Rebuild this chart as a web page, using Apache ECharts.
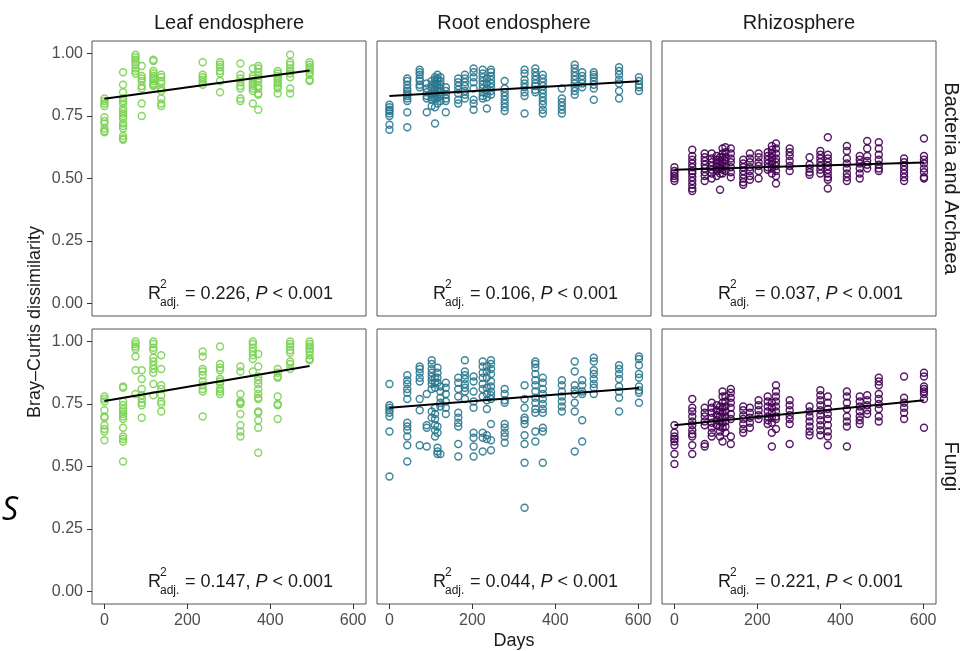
<!DOCTYPE html>
<html>
<head>
<meta charset="utf-8">
<script src="https://cdn.jsdelivr.net/npm/echarts@6/dist/echarts.min.js"></script>
<style>
html,body{margin:0;padding:0;background:#fff;}
#chart{width:963px;height:651px;}
</style>
</head>
<body>
<div id="chart"></div>
<script>
// ---------- data ----------
const columnTitles = ['Leaf endosphere', 'Root endosphere', 'Rhizosphere'];
const rowTitles = ['Bacteria and Archaea', 'Fungi'];
const xTicks = [0, 200, 400, 600];
const yTicks = [0, 0.25, 0.5, 0.75, 1];

const leafDays = [0, 45, 75, 90, 118, 137, 237, 279, 328, 358, 371, 418, 448, 495];
const soilDays = [0, 43, 73, 90, 102, 110, 116, 123, 136, 166, 182, 203, 225, 235, 245, 278, 326, 352, 370, 416, 447, 465, 493, 554, 602];

const leafBacteria = [
  [0.82, 0.81, 0.80, 0.79, 0.745, 0.73, 0.72, 0.70, 0.685, 0.69],
  [0.925, 0.875, 0.845, 0.82, 0.81, 0.80, 0.78, 0.77, 0.76, 0.75, 0.74, 0.72, 0.71, 0.70, 0.67, 0.66, 0.655],
  [0.995, 0.985, 0.975, 0.965, 0.955, 0.94, 0.93, 0.92],
  [0.95, 0.91, 0.90, 0.89, 0.87, 0.86, 0.80, 0.75],
  [0.97, 0.975, 0.93, 0.92, 0.91, 0.90, 0.89, 0.88, 0.875, 0.87],
  [0.915, 0.905, 0.89, 0.88, 0.86, 0.85, 0.82, 0.80, 0.79],
  [0.965, 0.915, 0.905, 0.895, 0.885, 0.875],
  [0.965, 0.955, 0.945, 0.93, 0.92, 0.89, 0.845],
  [0.96, 0.915, 0.90, 0.885, 0.87, 0.86, 0.82, 0.81],
  [0.94, 0.91, 0.90, 0.89, 0.88, 0.87, 0.86, 0.85, 0.80],
  [0.95, 0.94, 0.925, 0.91, 0.90, 0.89, 0.87, 0.86, 0.84, 0.835, 0.775],
  [0.93, 0.92, 0.91, 0.90, 0.89, 0.88, 0.87, 0.86, 0.84],
  [0.995, 0.965, 0.955, 0.94, 0.93, 0.92, 0.905, 0.86, 0.84],
  [0.965, 0.955, 0.945, 0.935, 0.925, 0.915, 0.895, 0.89]
];

const rootBacteria = [
  [0.795, 0.785, 0.775, 0.77, 0.76, 0.75, 0.715, 0.695],
  [0.90, 0.89, 0.875, 0.86, 0.85, 0.84, 0.83, 0.82, 0.81, 0.765, 0.705],
  [0.935, 0.925, 0.915, 0.90, 0.89, 0.875, 0.865],
  [0.88, 0.86, 0.845, 0.83, 0.82, 0.765],
  [0.89, 0.875, 0.86, 0.84, 0.825, 0.815, 0.79],
  [0.905, 0.895, 0.88, 0.87, 0.855, 0.84, 0.83, 0.82, 0.785, 0.72],
  [0.915, 0.90, 0.89, 0.875, 0.86, 0.85, 0.835, 0.82, 0.80],
  [0.905, 0.89, 0.875, 0.86, 0.845, 0.83, 0.81],
  [0.865, 0.85, 0.835, 0.82, 0.81, 0.765],
  [0.90, 0.885, 0.87, 0.855, 0.84, 0.815, 0.80],
  [0.915, 0.90, 0.885, 0.87, 0.85, 0.835, 0.82],
  [0.94, 0.925, 0.905, 0.885, 0.86, 0.815, 0.80, 0.775],
  [0.935, 0.92, 0.905, 0.89, 0.875, 0.86, 0.845, 0.83, 0.82],
  [0.90, 0.88, 0.86, 0.84, 0.825, 0.78],
  [0.935, 0.925, 0.91, 0.895, 0.88, 0.865, 0.85, 0.835],
  [0.89, 0.86, 0.845, 0.83, 0.815, 0.80, 0.785, 0.77],
  [0.935, 0.92, 0.895, 0.88, 0.865, 0.845, 0.83, 0.76],
  [0.94, 0.925, 0.91, 0.895, 0.88, 0.87, 0.855, 0.845],
  [0.915, 0.90, 0.885, 0.87, 0.855, 0.84, 0.825, 0.81, 0.795, 0.775, 0.76],
  [0.86, 0.82, 0.805, 0.79, 0.775, 0.76],
  [0.955, 0.94, 0.925, 0.91, 0.895, 0.88, 0.865, 0.85, 0.835],
  [0.925, 0.91, 0.895, 0.88, 0.865],
  [0.925, 0.915, 0.905, 0.89, 0.875, 0.86, 0.815],
  [0.945, 0.93, 0.915, 0.895, 0.88, 0.85, 0.82],
  [0.905, 0.89, 0.875, 0.865, 0.85]
];

const rhizoBacteria = [
  [0.545, 0.53, 0.52, 0.51, 0.50, 0.49],
  [0.615, 0.59, 0.575, 0.56, 0.545, 0.53, 0.52, 0.505, 0.49, 0.475, 0.46, 0.45],
  [0.60, 0.585, 0.57, 0.555, 0.54, 0.525, 0.51, 0.49],
  [0.60, 0.58, 0.565, 0.55, 0.535, 0.52, 0.50],
  [0.59, 0.575, 0.56, 0.545, 0.53, 0.51],
  [0.585, 0.57, 0.555, 0.54, 0.52, 0.455],
  [0.62, 0.60, 0.585, 0.565, 0.55, 0.535, 0.52],
  [0.625, 0.605, 0.585, 0.57, 0.55, 0.53],
  [0.62, 0.60, 0.58, 0.565, 0.545, 0.525, 0.505],
  [0.575, 0.56, 0.545, 0.53, 0.515, 0.50, 0.485, 0.475],
  [0.60, 0.58, 0.565, 0.545, 0.53, 0.51, 0.495],
  [0.60, 0.585, 0.565, 0.55, 0.53, 0.50],
  [0.605, 0.59, 0.575, 0.56, 0.545, 0.535],
  [0.63, 0.615, 0.60, 0.585, 0.57, 0.555, 0.54, 0.52],
  [0.64, 0.62, 0.60, 0.58, 0.565, 0.55, 0.53, 0.51, 0.48],
  [0.62, 0.605, 0.59, 0.57, 0.55, 0.53],
  [0.585, 0.555, 0.54, 0.525, 0.515],
  [0.61, 0.595, 0.58, 0.565, 0.55, 0.535, 0.52],
  [0.665, 0.595, 0.58, 0.565, 0.55, 0.535, 0.52, 0.505, 0.495, 0.46],
  [0.63, 0.61, 0.58, 0.56, 0.54, 0.52, 0.505, 0.49],
  [0.59, 0.575, 0.56, 0.54, 0.52, 0.50],
  [0.65, 0.62, 0.59, 0.57, 0.555, 0.54],
  [0.645, 0.62, 0.595, 0.575, 0.555, 0.54, 0.53],
  [0.58, 0.565, 0.55, 0.535, 0.52, 0.505, 0.49],
  [0.66, 0.59, 0.575, 0.56, 0.54, 0.525, 0.505, 0.50]
];

const leafFungi = [
  [0.78, 0.77, 0.76, 0.725, 0.70, 0.695, 0.665, 0.65, 0.64, 0.605],
  [0.82, 0.815, 0.76, 0.745, 0.73, 0.72, 0.71, 0.70, 0.69, 0.655, 0.62, 0.61, 0.60, 0.52],
  [1.0, 0.99, 0.98, 0.97, 0.94, 0.885, 0.79],
  [0.885, 0.85, 0.81, 0.785, 0.77, 0.755, 0.745, 0.695],
  [1.0, 0.99, 0.975, 0.965, 0.935, 0.92, 0.905, 0.89, 0.875, 0.83, 0.785],
  [0.945, 0.89, 0.825, 0.81, 0.785, 0.76, 0.75, 0.72],
  [0.96, 0.94, 0.89, 0.88, 0.865, 0.84, 0.825, 0.81, 0.80, 0.70],
  [0.98, 0.91, 0.895, 0.885, 0.85, 0.84, 0.83, 0.81, 0.80, 0.79],
  [0.90, 0.88, 0.79, 0.76, 0.755, 0.75, 0.71, 0.665, 0.64, 0.62],
  [1.0, 0.99, 0.975, 0.96, 0.945, 0.93, 0.88],
  [0.95, 0.90, 0.86, 0.845, 0.83, 0.81, 0.79, 0.775, 0.77, 0.72, 0.715, 0.685, 0.655, 0.555],
  [0.89, 0.875, 0.86, 0.855, 0.78, 0.75, 0.745, 0.69],
  [1.0, 0.99, 0.98, 0.965, 0.955, 0.92, 0.91, 0.89],
  [1.0, 0.99, 0.98, 0.97, 0.96, 0.945, 0.93, 0.925]
];

const rootFungi = [
  [0.83, 0.745, 0.735, 0.725, 0.715, 0.70, 0.64, 0.46],
  [0.865, 0.845, 0.83, 0.81, 0.795, 0.77, 0.675, 0.66, 0.645, 0.62, 0.585, 0.52],
  [0.90, 0.89, 0.875, 0.855, 0.84, 0.77, 0.725, 0.585],
  [0.79, 0.665, 0.655, 0.58],
  [0.925, 0.91, 0.89, 0.875, 0.86, 0.845, 0.83, 0.81, 0.72, 0.695],
  [0.855, 0.835, 0.815, 0.735, 0.71, 0.69, 0.665, 0.645, 0.62],
  [0.895, 0.875, 0.855, 0.835, 0.66, 0.635, 0.575, 0.56, 0.55],
  [0.82, 0.80, 0.775, 0.755, 0.74, 0.55],
  [0.835, 0.815, 0.79, 0.76, 0.735, 0.71],
  [0.855, 0.835, 0.81, 0.78, 0.715, 0.695, 0.675, 0.66, 0.59, 0.54],
  [0.925, 0.88, 0.865, 0.85, 0.83, 0.815, 0.80, 0.77],
  [0.86, 0.84, 0.80, 0.76, 0.735, 0.635, 0.615, 0.58, 0.54],
  [0.92, 0.90, 0.875, 0.855, 0.83, 0.81, 0.78, 0.635, 0.615, 0.56],
  [0.90, 0.88, 0.855, 0.815, 0.79, 0.765, 0.73, 0.625, 0.61],
  [0.925, 0.91, 0.89, 0.87, 0.84, 0.82, 0.80, 0.785, 0.77, 0.67, 0.605, 0.565],
  [0.81, 0.79, 0.765, 0.755, 0.67, 0.655, 0.635, 0.62, 0.595],
  [0.825, 0.77, 0.735, 0.695, 0.685, 0.67, 0.625, 0.59, 0.515, 0.335],
  [0.92, 0.91, 0.895, 0.87, 0.845, 0.825, 0.80, 0.775, 0.755, 0.73, 0.715, 0.64, 0.60],
  [0.855, 0.835, 0.81, 0.79, 0.77, 0.75, 0.73, 0.715, 0.655, 0.64, 0.515],
  [0.845, 0.825, 0.80, 0.78, 0.76, 0.74, 0.72],
  [0.92, 0.88, 0.825, 0.805, 0.79, 0.755, 0.72, 0.56],
  [0.845, 0.825, 0.80, 0.79, 0.685, 0.60],
  [0.935, 0.92, 0.885, 0.87, 0.85, 0.83, 0.815, 0.79],
  [0.905, 0.89, 0.87, 0.85, 0.82, 0.80, 0.775, 0.72],
  [0.94, 0.93, 0.905, 0.87, 0.855, 0.82, 0.805, 0.795, 0.755]
];

const rhizoFungi = [
  [0.665, 0.635, 0.62, 0.61, 0.60, 0.585, 0.55, 0.51],
  [0.77, 0.735, 0.72, 0.70, 0.68, 0.665, 0.645, 0.63, 0.62, 0.585, 0.55],
  [0.735, 0.715, 0.70, 0.68, 0.665, 0.59, 0.58],
  [0.755, 0.735, 0.715, 0.695, 0.675, 0.655, 0.635, 0.62],
  [0.745, 0.725, 0.705, 0.685, 0.665],
  [0.74, 0.72, 0.70, 0.68, 0.66, 0.64, 0.62],
  [0.80, 0.78, 0.755, 0.735, 0.715, 0.695, 0.675, 0.655, 0.60],
  [0.78, 0.76, 0.74, 0.72, 0.70, 0.68, 0.66, 0.635],
  [0.81, 0.795, 0.775, 0.755, 0.735, 0.71, 0.69, 0.62, 0.59],
  [0.74, 0.725, 0.705, 0.69, 0.67, 0.65, 0.635],
  [0.735, 0.715, 0.695, 0.675, 0.655],
  [0.765, 0.745, 0.725, 0.705, 0.69],
  [0.78, 0.76, 0.74, 0.72, 0.70, 0.685, 0.67],
  [0.755, 0.735, 0.715, 0.695, 0.675, 0.635, 0.58],
  [0.825, 0.80, 0.78, 0.76, 0.74, 0.72, 0.70, 0.69, 0.65],
  [0.765, 0.745, 0.725, 0.705, 0.69, 0.67, 0.59],
  [0.74, 0.72, 0.70, 0.68, 0.66, 0.64, 0.625],
  [0.805, 0.785, 0.765, 0.745, 0.725, 0.705, 0.685, 0.665, 0.645, 0.625],
  [0.78, 0.755, 0.73, 0.71, 0.69, 0.665, 0.64, 0.62, 0.585],
  [0.80, 0.78, 0.755, 0.73, 0.70, 0.68, 0.66, 0.58],
  [0.78, 0.76, 0.74, 0.72, 0.70, 0.685, 0.67],
  [0.785, 0.765, 0.745, 0.725, 0.71],
  [0.855, 0.84, 0.825, 0.79, 0.77, 0.75, 0.73, 0.70, 0.68],
  [0.86, 0.775, 0.755, 0.735, 0.715, 0.69],
  [0.875, 0.86, 0.82, 0.81, 0.80, 0.79, 0.77, 0.655]
];

// fitted regression lines: [value at first day, value at last day]
const fitLines = [[0.819, 0.932], [0.830, 0.889], [0.535, 0.564],
                  [0.762, 0.902], [0.735, 0.814], [0.665, 0.765]];
const r2Values = ['0.226', '0.106', '0.037', '0.147', '0.044', '0.221'];

// ---------- build ----------
const panels = [
  {days: leafDays, vals: leafBacteria, color: '#7AD151'},
  {days: soilDays, vals: rootBacteria, color: '#2A788E'},
  {days: soilDays, vals: rhizoBacteria, color: '#440154'},
  {days: leafDays, vals: leafFungi, color: '#7AD151'},
  {days: soilDays, vals: rootFungi, color: '#2A788E'},
  {days: soilDays, vals: rhizoFungi, color: '#440154'}
];

const FONT = '"Liberation Sans", Arial, Helvetica, sans-serif';
const panelLeft = [92, 377, 662];
const panelTop = [41, 329];
const PW = 274, PH = 275;

const grids = [], xAxes = [], yAxes = [], series = [], graphics = [];

panels.forEach((p, i) => {
  const row = Math.floor(i / 3), col = i % 3;
  grids.push({left: panelLeft[col], top: panelTop[row], width: PW, height: PH,
    show: true, borderColor: '#555', borderWidth: 1, backgroundColor: 'transparent'});
  xAxes.push({type: 'value', gridIndex: i, min: -30, max: 631, position: 'bottom',
    axisLine: {show: false, onZero: false}, splitLine: {show: false},
    axisTick: {show: row === 1, inside: false, length: 5, customValues: xTicks, lineStyle: {color: '#333'}},
    axisLabel: {show: row === 1, customValues: xTicks, margin: 9, fontSize: 16, color: '#4D4D4D', fontFamily: FONT}
  });
  yAxes.push({type: 'value', gridIndex: i, min: -0.05, max: 1.05, position: 'left',
    axisLine: {show: false, onZero: false}, splitLine: {show: false},
    axisTick: {show: col === 0, inside: false, length: 5, customValues: yTicks, lineStyle: {color: '#333'}},
    axisLabel: {show: col === 0, customValues: yTicks, margin: 9, fontSize: 16, color: '#4D4D4D', fontFamily: FONT,
      formatter: v => v.toFixed(2)}
  });
  const pts = [];
  p.days.forEach((d, k) => p.vals[k].forEach(v => pts.push([d, v])));
  series.push({type: 'scatter', xAxisIndex: i, yAxisIndex: i, data: pts,
    symbol: 'circle', symbolSize: 7,
    itemStyle: {color: 'rgba(0,0,0,0)', borderColor: p.color, borderWidth: 1.4, opacity: 0.9},
    emphasis: {disabled: true}, silent: true, z: 2});
  const d0 = p.days[0], d1 = p.days[p.days.length - 1];
  series.push({type: 'line', xAxisIndex: i, yAxisIndex: i,
    data: [[d0, fitLines[i][0]], [d1, fitLines[i][1]]],
    symbol: 'none', lineStyle: {color: '#000', width: 2}, silent: true, z: 3});

  // R² annotation
  const ax = panelLeft[col] + 56;
  const ay = panelTop[row] + PH - 22;
  graphics.push({type: 'group', x: ax, y: ay, silent: true, children: [
    {type: 'text', style: {text: 'R', x: 0, y: 0, fontSize: 18, fontFamily: FONT, fill: '#1a1a1a', verticalAlign: 'middle'}},
    {type: 'text', style: {text: '2', x: 12, y: -9, fontSize: 12, fontFamily: FONT, fill: '#1a1a1a', verticalAlign: 'middle'}},
    {type: 'text', style: {text: 'adj.', x: 12, y: 9, fontSize: 12, fontFamily: FONT, fill: '#1a1a1a', verticalAlign: 'middle'}},
    {type: 'text', style: {text: '= ' + r2Values[i] + ', {i|P} < 0.001', x: 37, y: 0, fontSize: 18, fontFamily: FONT,
      fill: '#1a1a1a', verticalAlign: 'middle',
      rich: {i: {fontStyle: 'italic', fontSize: 18, fontFamily: FONT, fill: '#1a1a1a'}}}}
  ]});
});

// strip titles
columnTitles.forEach((t, c) => {
  graphics.push({type: 'text', silent: true, style: {text: t, x: panelLeft[c] + PW / 2, y: 23,
    align: 'center', verticalAlign: 'middle', fontSize: 20, fontFamily: FONT, fill: '#1a1a1a'}});
});
rowTitles.forEach((t, r) => {
  graphics.push({type: 'text', silent: true, x: 951, y: panelTop[r] + PH / 2, rotation: -Math.PI / 2,
    style: {text: t, x: 0, y: 0, align: 'center', verticalAlign: 'middle', fontSize: 20, fontFamily: FONT, fill: '#1a1a1a'}});
});
// axis titles
graphics.push({type: 'text', silent: true, x: 35, y: 322, rotation: Math.PI / 2,
  style: {text: 'Bray\u2013Curtis dissimilarity', x: 0, y: 0, align: 'center', verticalAlign: 'middle',
    fontSize: 18, fontFamily: FONT, fill: '#1a1a1a'}});
graphics.push({type: 'text', silent: true, style: {text: 'Days', x: 514, y: 641, align: 'center', verticalAlign: 'middle',
  fontSize: 18, fontFamily: FONT, fill: '#1a1a1a'}});
graphics.push({type: 'text', silent: true, style: {text: 'S', x: 10, y: 511, align: 'center', verticalAlign: 'middle',
  fontSize: 32, fontStyle: 'italic', fontFamily: '"Open Sans", "Noto Sans", sans-serif', fill: '#000'}});

const chart = echarts.init(document.getElementById('chart'), null, {renderer: 'canvas'});
chart.setOption({
  animation: false,
  backgroundColor: '#fff',
  grid: grids, xAxis: xAxes, yAxis: yAxes, series: series, graphic: graphics
});
</script>
</body>
</html>
